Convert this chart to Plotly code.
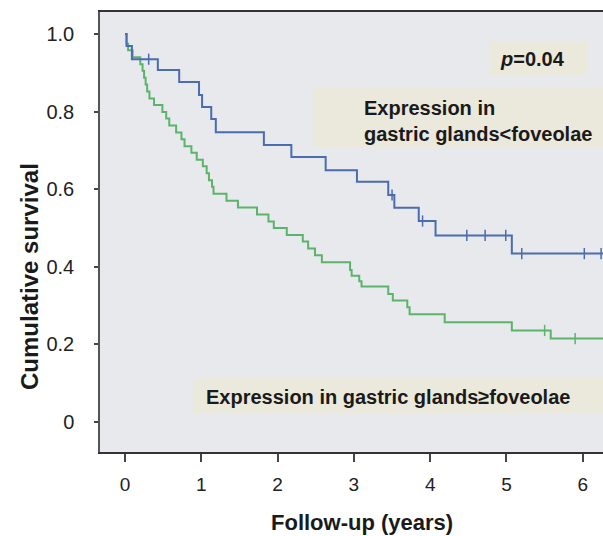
import numpy as np
import plotly.graph_objects as go

# ---- data ----
blue_times = [0, 0.02, 0.09, 0.43, 0.71, 0.97, 1.01, 1.13, 1.19, 1.82, 2.18, 2.63,
              3.04, 3.45, 3.53, 3.85, 4.07, 5.07]
blue_surv = [1.0, 0.969, 0.935, 0.907, 0.876, 0.843, 0.812, 0.781, 0.747, 0.714, 0.683, 0.649,
             0.619, 0.585, 0.552, 0.518, 0.481, 0.434]
blue_censor = [0.31, 3.50, 3.90, 4.48, 4.72, 4.99, 5.20, 6.02, 6.24]

green_times = [0, 0.02, 0.04, 0.10, 0.20, 0.23, 0.25, 0.27, 0.29, 0.32, 0.38, 0.49, 0.54,
               0.58, 0.67, 0.74, 0.78, 0.87, 0.94, 1.02, 1.07, 1.10, 1.14, 1.16, 1.33, 1.48,
               1.73, 1.88, 1.95, 2.12, 2.33, 2.40, 2.49, 2.58, 2.95, 2.97, 3.07, 3.10, 3.45,
               3.51, 3.70, 3.73, 4.19, 5.07, 5.58]
green_surv = [1.0, 0.975, 0.958, 0.940, 0.922, 0.905, 0.887, 0.870, 0.852, 0.834, 0.817, 0.799,
              0.782, 0.764, 0.746, 0.729, 0.711, 0.694, 0.676, 0.659, 0.641, 0.623, 0.606, 0.588,
              0.570, 0.553, 0.535, 0.517, 0.500, 0.482, 0.465, 0.447, 0.430, 0.412, 0.392, 0.377,
              0.363, 0.349, 0.330, 0.313, 0.296, 0.278, 0.257, 0.236, 0.215]
green_censor = [5.50, 5.90]

end_time = 6.27
x_ticks = [0, 1, 2, 3, 4, 5, 6]
y_ticks = [0, 0.2, 0.4, 0.6, 0.8, 1.0]
y_ticklabels = ["0", "0.2", "0.4", "0.6", "0.8", "1.0"]

BLUE = "#4a6db0"
GREEN = "#5cb46a"


def surv_at(times, surv, t):
    idx = np.searchsorted(np.array(times), t, side="right") - 1
    return surv[idx]


fig = go.Figure()
for times, surv, cens, col in [(green_times, green_surv, green_censor, GREEN),
                               (blue_times, blue_surv, blue_censor, BLUE)]:
    fig.add_trace(go.Scatter(x=list(times) + [end_time], y=list(surv) + [surv[-1]],
                             mode="lines", line=dict(color=col, width=2, shape="hv"),
                             showlegend=False, hoverinfo="skip"))
    fig.add_trace(go.Scatter(x=cens, y=[surv_at(times, surv, t) for t in cens],
                             mode="markers",
                             marker=dict(symbol="line-ns", size=8, line=dict(color=col, width=1.5)),
                             showlegend=False, hoverinfo="skip"))

FONT = "Liberation Sans, Arial, sans-serif"
BOX = "#ebe8dc"

# annotation boxes (paper coords)
for x0, x1, y0, y1 in [(0.775, 0.968, 0.857, 0.932),
                       (0.4235, 1.0, 0.693, 0.827),
                       (0.185, 1.0, 0.0886, 0.168)]:
    fig.add_shape(type="rect", xref="paper", yref="paper", x0=x0, x1=x1, y0=y0, y1=y1,
                  fillcolor=BOX, line=dict(width=0), layer="below")

fig.add_annotation(xref="paper", yref="paper", x=0.859, y=0.894, text="<b><i>p</i>=0.04</b>",
                   showarrow=False, font=dict(family=FONT, size=20, color="#1a1a1a"),
                   xanchor="center", yanchor="middle")
fig.add_annotation(xref="paper", yref="paper", x=0.521, y=0.7534,
                   text="<b>Expression in<br>gastric glands&lt;foveolae</b>",
                   showarrow=False, align="left", xanchor="left", yanchor="middle",
                   font=dict(family=FONT, size=20, color="#1a1a1a"))
fig.add_annotation(xref="paper", yref="paper", x=0.2068, y=0.125,
                   text="<b>Expression in gastric glands≥foveolae</b>",
                   showarrow=False, align="left", xanchor="left", yanchor="middle",
                   font=dict(family=FONT, size=20, color="#1a1a1a"))

# axis titles as annotations
fig.add_annotation(xref="paper", yref="paper", x=-0.139, y=0.398, text="<b>Cumulative survival</b>",
                   textangle=-90, showarrow=False, xanchor="center", yanchor="middle",
                   font=dict(family=FONT, size=24, color="#1a1a1a"))
fig.add_annotation(xref="paper", yref="paper", x=0.521, y=-0.161, text="<b>Follow-up (years)</b>",
                   showarrow=False, xanchor="center", yanchor="middle",
                   font=dict(family=FONT, size=22, color="#1a1a1a"))

fig.update_layout(
    width=603, height=536,
    margin=dict(l=100, r=0, t=12, b=84),
    paper_bgcolor="white", plot_bgcolor="#e7e9ed",
    font=dict(family=FONT, size=19, color="#222222"),
    xaxis=dict(range=[-0.328, 6.265], tickvals=x_ticks, ticks="outside", ticklen=8,
               tickwidth=2, tickcolor="#444444", showgrid=False, zeroline=False,
               showline=True, linecolor="#333333", linewidth=1.5, mirror=True,
               ticklabelstandoff=6, tickfont=dict(size=19)),
    yaxis=dict(range=[-0.0773, 1.0567], tickvals=y_ticks, ticktext=y_ticklabels,
               ticks="outside", ticklen=4, tickwidth=2, tickcolor="#444444",
               showgrid=False, zeroline=False, showline=True, linecolor="#555555",
               linewidth=1.5, ticklabelstandoff=16, tickfont=dict(size=20)),
)

fig.write_html("out.html", config={"displayModeBar": False},
               post_script="document.body.style.margin='0px';document.body.style.overflow='hidden';")
